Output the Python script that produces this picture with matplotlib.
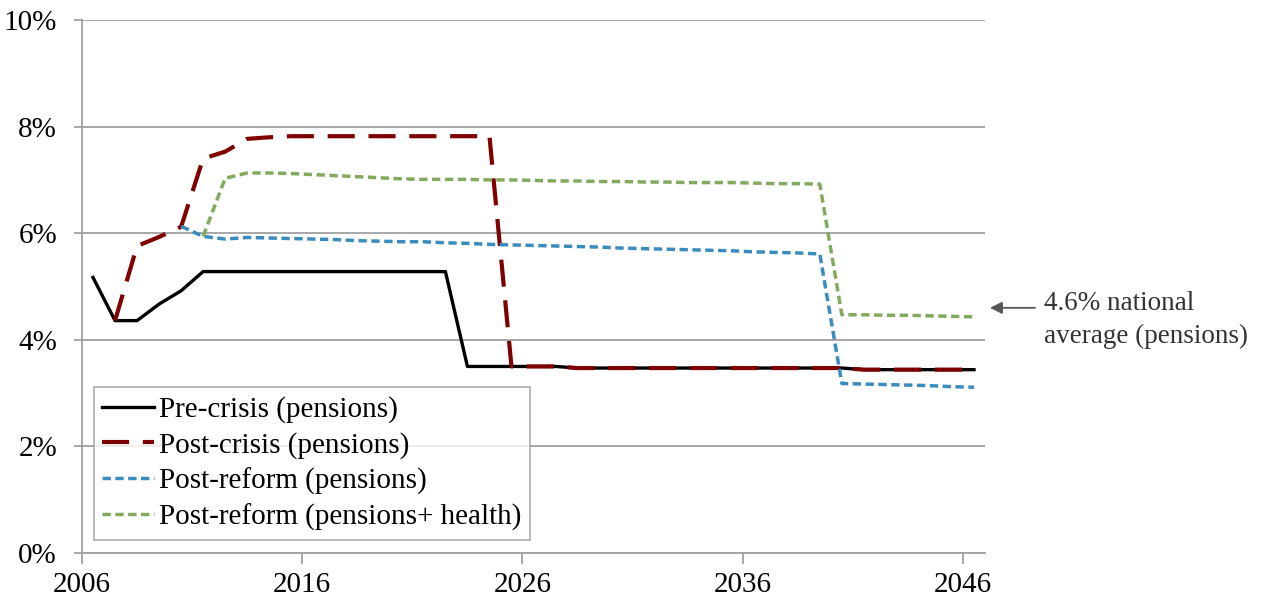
import numpy as np
import matplotlib
matplotlib.use("Agg")
import matplotlib.pyplot as plt
from matplotlib.ticker import FuncFormatter

plt.rcParams['font.family'] = ['Liberation Serif', 'DejaVu Serif']

nan = np.nan
years = np.arange(2006, 2047)

# % of GDP
pre_crisis = [5.17, 4.36, 4.36, 4.67, 4.92, 5.28, 5.28, 5.28, 5.28, 5.28,
              5.28, 5.28, 5.28, 5.28, 5.28, 5.28, 5.28, 3.50, 3.50, 3.50,
              3.50, 3.50, 3.47, 3.47, 3.47, 3.47, 3.47, 3.47, 3.47, 3.47,
              3.47, 3.47, 3.47, 3.47, 3.47, 3.44, 3.44, 3.44, 3.44, 3.44, 3.44]
post_crisis = [nan, 4.36, 5.76, 5.93, 6.12, 7.40, 7.53, 7.77, 7.80, 7.82,
               7.82, 7.82, 7.82, 7.82, 7.82, 7.82, 7.82, 7.82, 7.82, 3.50,
               3.50, 3.50, 3.47, 3.47, 3.47, 3.47, 3.47, 3.47, 3.47, 3.47,
               3.47, 3.47, 3.47, 3.47, 3.47, 3.44, 3.44, 3.44, 3.44, 3.44, 3.44]
post_reform = [nan, nan, nan, nan, 6.13, 5.94, 5.89, 5.92, 5.91, 5.90,
               5.89, 5.88, 5.86, 5.85, 5.84, 5.84, 5.82, 5.81, 5.79, 5.78,
               5.77, 5.76, 5.75, 5.74, 5.72, 5.71, 5.70, 5.69, 5.68, 5.67,
               5.65, 5.64, 5.63, 5.61, 3.18, 3.17, 3.16, 3.15, 3.14, 3.12, 3.11]
post_reform_health = [nan, nan, nan, nan, nan, 5.94, 7.03, 7.13, 7.13, 7.12,
                      7.10, 7.08, 7.06, 7.04, 7.02, 7.01, 7.01, 7.01, 7.00, 7.00,
                      6.99, 6.98, 6.98, 6.97, 6.97, 6.96, 6.96, 6.95, 6.95, 6.95,
                      6.94, 6.93, 6.93, 6.92, 4.47, 4.47, 4.46, 4.46, 4.45, 4.44, 4.43]
national_avg = 4.6

x = years + 0.5

fig = plt.figure(figsize=(12.68, 6.03), dpi=100)
ax = fig.add_axes([82/1268, 1 - 553/603, (985-82)/1268, (553-20)/603])

ax.plot(x, pre_crisis, color='black', lw=2.4, label='Pre-crisis (pensions)')
ax.plot(x, post_crisis, color='#7f0000', lw=3, dashes=(6.5, 3.3),
        label='Post-crisis (pensions)')
ax.plot(x, post_reform, color='#3a8cbf', lw=2.5, dashes=(2.4, 1.3),
        label='Post-reform (pensions)')
ax.plot(x, post_reform_health, color='#82aa5e', lw=2.5, dashes=(2.4, 1.3),
        label='Post-reform (pensions+ health)')

ax.set_xlim(2006, 2047)
ax.set_ylim(0, 10)
ax.set_xticks([2006, 2016, 2026, 2036, 2046])
ax.set_yticks(range(0, 11, 2))
ax.yaxis.set_major_formatter(FuncFormatter(lambda v, p: '%d%%' % v))
ax.grid(axis='y', color='#a0a0a0', lw=1.3)
ax.set_axisbelow(True)
for s in ['top', 'right']:
    ax.spines[s].set_visible(False)
for s in ['left', 'bottom']:
    ax.spines[s].set_color('#a0a0a0')
    ax.spines[s].set_linewidth(1.3)
ax.tick_params(axis='x', length=8, width=1.3, color='#a0a0a0', labelsize=21, pad=6)
ax.tick_params(axis='y', length=6, width=1.3, color='#a0a0a0', labelsize=21, pad=12)

leg = ax.legend(loc='lower left', bbox_to_anchor=(0.013, 0.025), fontsize=21,
                frameon=True, fancybox=False, handlelength=1.75,
                handletextpad=0.2, labelspacing=0.3, borderpad=0.3,
                borderaxespad=0)
leg.get_frame().set_edgecolor('#a0a0a0')
leg.get_frame().set_linewidth(1.3)

ax.annotate('', xy=(2047.1, national_avg), xytext=(2049.4, national_avg),
            arrowprops=dict(arrowstyle='-|>', color='#555555', lw=1.3,
                            mutation_scale=18), annotation_clip=False)
ax.text(2049.7, 4.37, '4.6% national\naverage (pensions)', fontsize=19.5,
        color='#333333', va='center', ha='left', linespacing=1.45,
        clip_on=False)

fig.savefig('out.png', dpi=100)
